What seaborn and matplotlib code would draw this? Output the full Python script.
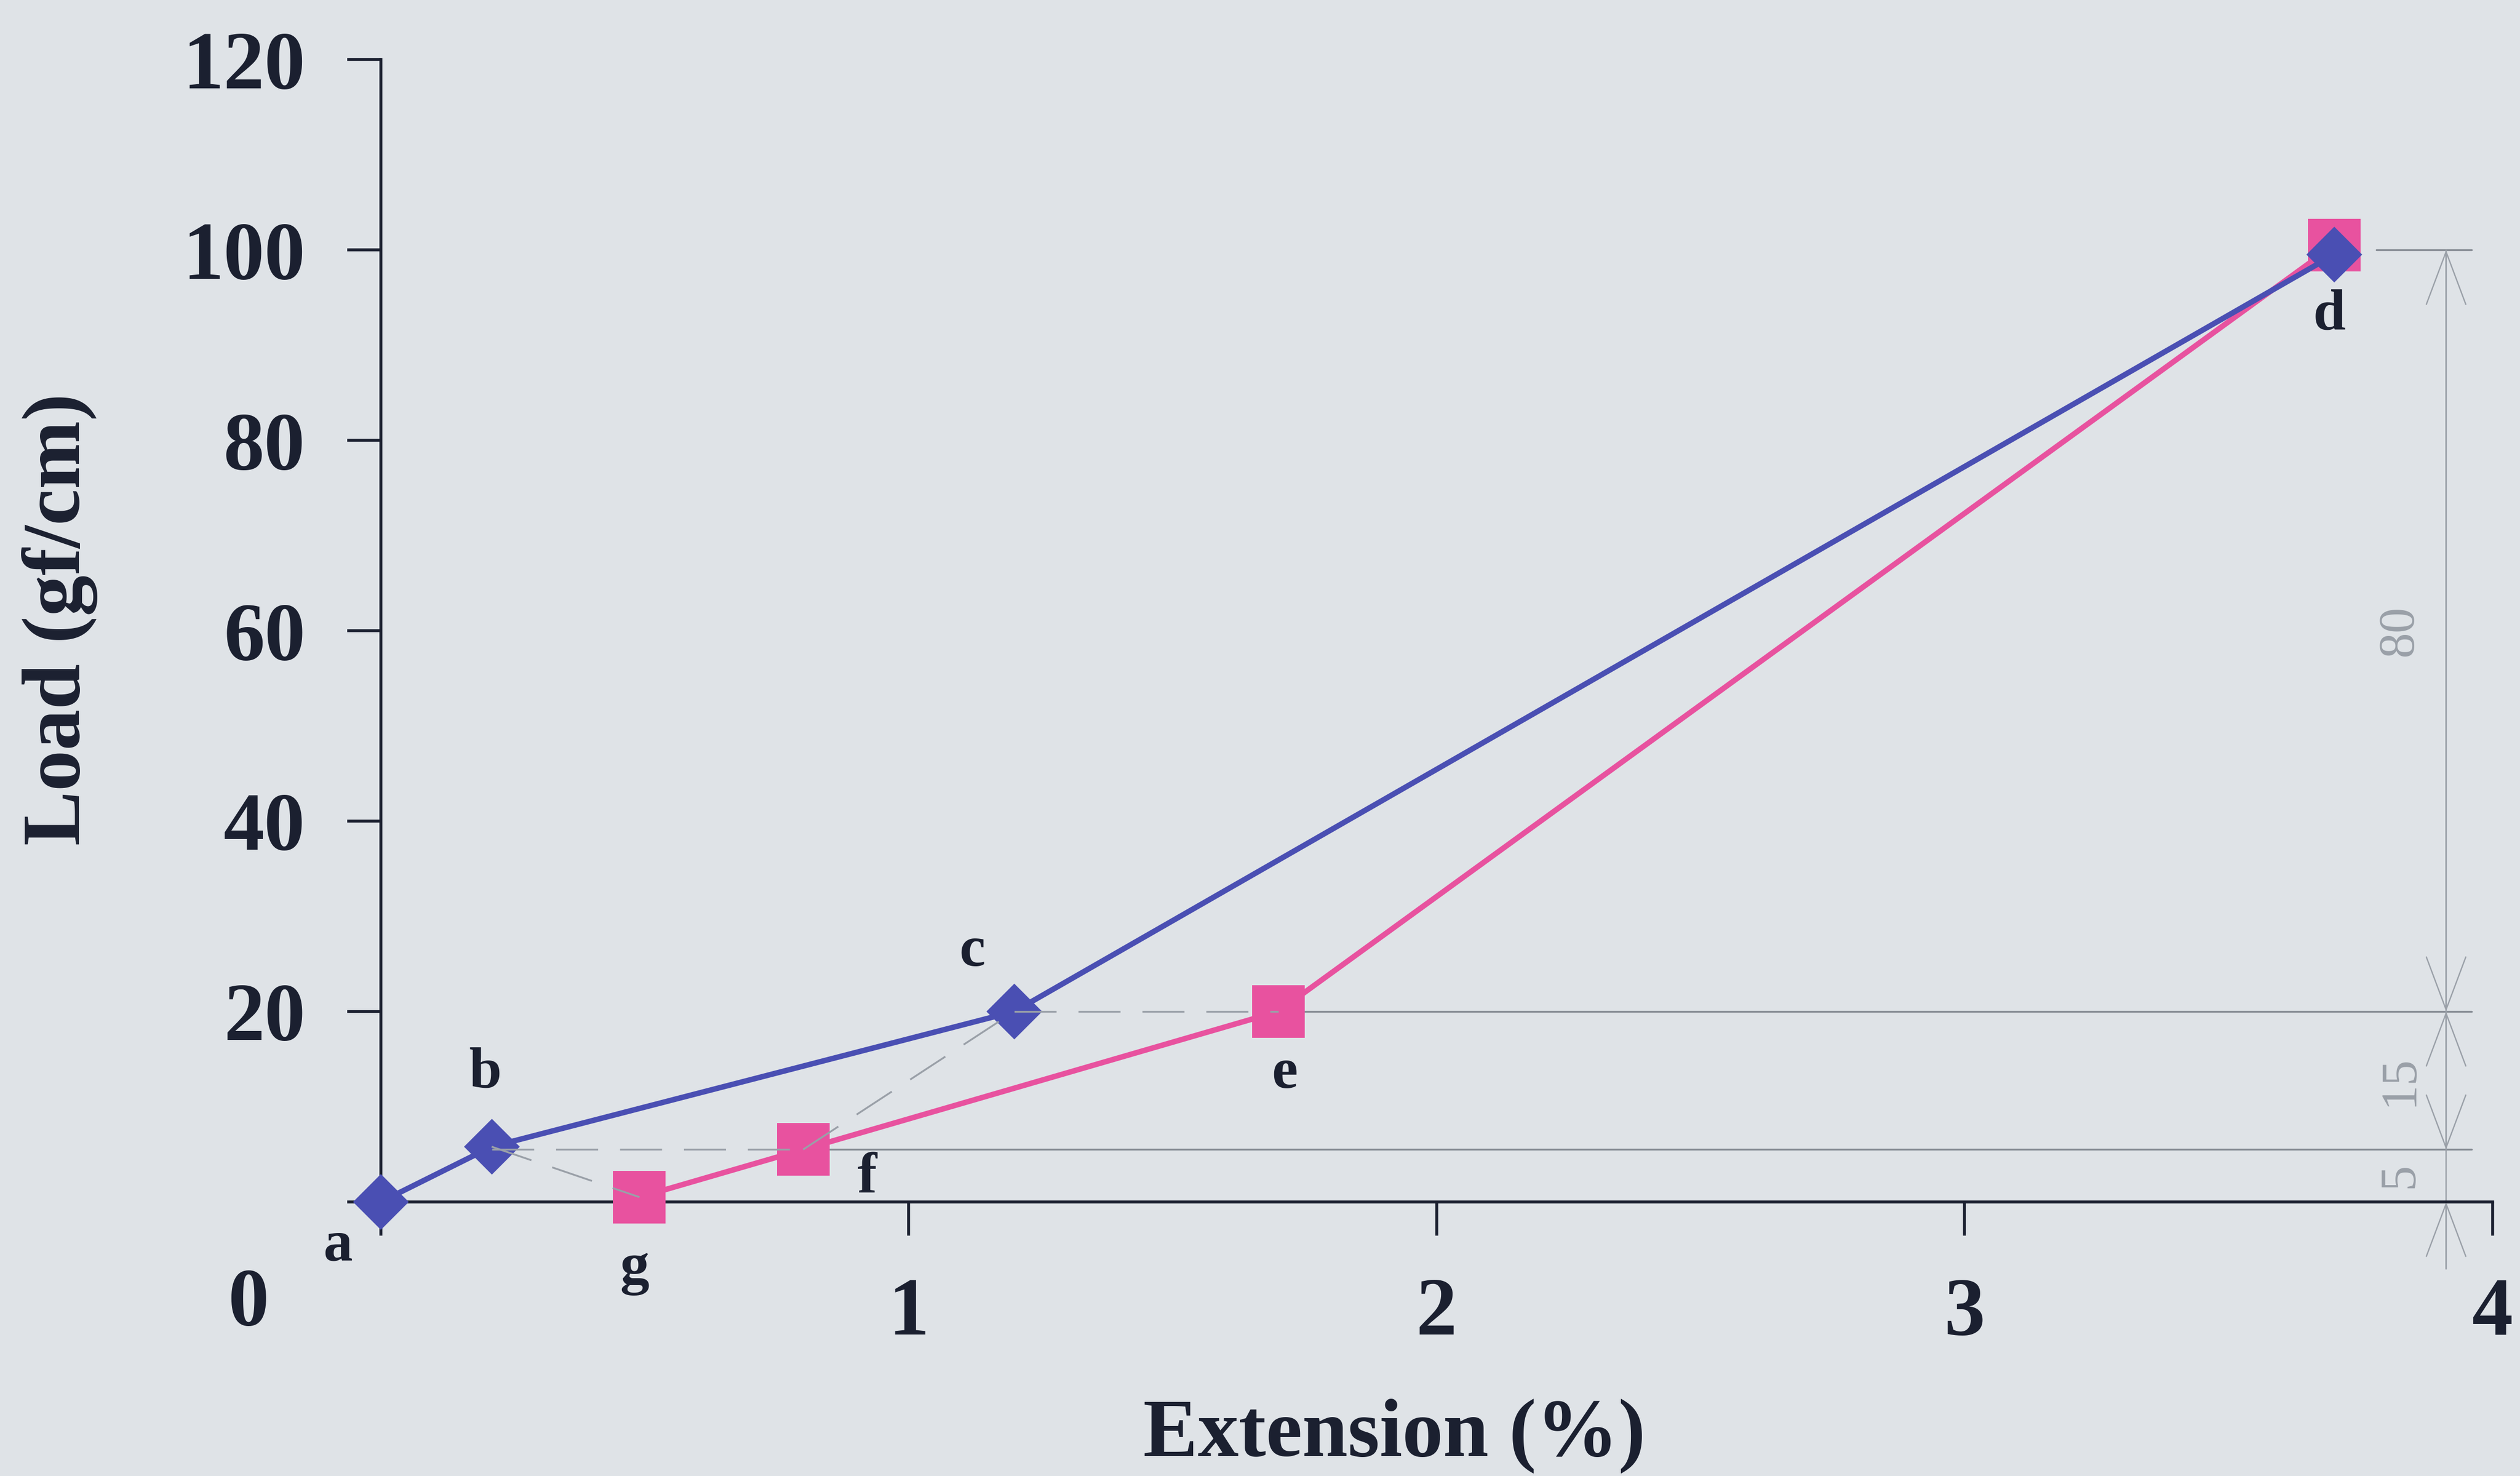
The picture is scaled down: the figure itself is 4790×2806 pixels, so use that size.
"""
Load / extension hysteresis chart (loading a-b-c-d, recovery d-e-f-g)
with the grey construction lines and the 5 / 15 / 80 dimension marks.
"""
import matplotlib
matplotlib.use("Agg")
import matplotlib.pyplot as plt
import seaborn as sns

# loading path (blue diamonds)
load_x = [0.0, 0.21, 1.20, 3.70]
load_y = [0.0, 5.8, 20.0, 99.5]
load_names = ["a", "b", "c", "d"]

# recovery path (pink squares)
recov_x = [0.49, 0.80, 1.70, 3.70]
recov_y = [0.5, 5.5, 20.0, 100.5]
recov_names = ["g", "f", "e", ""]

# dimension marks on the right
dim_levels = [0.0, 5.5, 20.0, 100.0]
dim_values = ["5", "15", "80"]

x_ticks = [0, 1, 2, 3, 4]
x_labels = ["", "1", "2", "3", "4"]
y_ticks = [0, 20, 40, 60, 80, 100, 120]
y_labels = ["", "20", "40", "60", "80", "100", "120"]

BG = "#dfe3e7"
INK = "#1b2030"
BLUE = "#4a4fb3"
PINK = "#e8529f"
GREY_D = "#9aa0a8"
GREY_S = "#858b93"

sns.set_theme(style="white")
plt.rcParams["font.family"] = ["Liberation Serif", "DejaVu Serif"]

fig = plt.figure(figsize=(47.9, 28.06), dpi=100, facecolor=BG)
ax = fig.add_axes([0.1511, 0.1857, 0.838, 0.774], facecolor=BG)

# grey construction lines (drawn over the markers, like the original)
dash = (0, (23, 12))
ax.plot([load_x[1], recov_x[1]], [recov_y[1], recov_y[1]], color=GREY_D, lw=2.5, ls=dash, zorder=6)
ax.plot([load_x[2], recov_x[2]], [load_y[2], load_y[2]], color=GREY_D, lw=2.5, ls=dash, zorder=6)
ax.plot([load_x[1], recov_x[0]], [load_y[1], recov_y[0]], color=GREY_D, lw=2.5, ls=dash, zorder=6)
ax.plot([recov_x[1], load_x[2]], [recov_y[1], load_y[2]], color=GREY_D, lw=2.5, ls=dash, zorder=6)

x_end = 3.96
ax.plot([recov_x[1] + 0.05, x_end], [dim_levels[1]] * 2, color=GREY_S, lw=2.5, zorder=2, clip_on=False)
ax.plot([recov_x[2] + 0.05, x_end], [dim_levels[2]] * 2, color=GREY_S, lw=2.5, zorder=2, clip_on=False)
ax.plot([3.78, x_end], [dim_levels[3]] * 2, color=GREY_S, lw=2.5, zorder=2, clip_on=False)

# the two curves
sns.lineplot(x=recov_x, y=recov_y, ax=ax, color=PINK, lw=7.5, marker="s",
             markersize=72, markeredgewidth=0, sort=False, clip_on=False, zorder=4)
sns.lineplot(x=load_x, y=load_y, ax=ax, color=BLUE, lw=7.5, marker="D",
             markersize=54, markeredgewidth=0, sort=False, clip_on=False, zorder=5)

# point letters
offsets = {"a": (-59, -60), "b": (-9, 100), "c": (-58, 82), "d": (-7, -83),
           "e": (9, -85), "f": (87, -39), "g": (-7, -99)}
for xs, ys, names in [(load_x, load_y, load_names), (recov_x, recov_y, recov_names)]:
    for x, y, n in zip(xs, ys, names):
        if not n:
            continue
        ax.annotate(n, (x, y), xytext=offsets[n], textcoords="offset points",
                    ha="center", va="center", fontsize=80, fontweight="bold",
                    color=INK, annotation_clip=False)

# dimension line with arrows
xd = 3.912
ax.plot([xd, xd], [dim_levels[3], -7], color=GREY_D, lw=1.8, clip_on=False, zorder=2)
arrow = dict(arrowstyle="<->,head_length=1.2,head_width=0.45", color=GREY_D, lw=1.8,
             shrinkA=0, shrinkB=0, mutation_scale=60)
ax.annotate("", xy=(xd, dim_levels[3]), xytext=(xd, dim_levels[2]), arrowprops=arrow, annotation_clip=False)
ax.annotate("", xy=(xd, dim_levels[2]), xytext=(xd, dim_levels[1]), arrowprops=arrow, annotation_clip=False)
ax.annotate("", xy=(xd, dim_levels[0]), xytext=(xd, -7),
            arrowprops=dict(arrow, arrowstyle="->,head_length=1.2,head_width=0.45"),
            annotation_clip=False)
for lo, hi, v in zip(dim_levels[:-1], dim_levels[1:], dim_values):
    mid = (lo + hi) / 2
    ax.text(3.825, mid, v, rotation=90, ha="center", va="center", fontsize=70, color=GREY_D)

# axes styling
ax.set_xlim(0, 4)
ax.set_ylim(0, 120)
ax.set_xticks(x_ticks, x_labels)
ax.set_yticks(y_ticks, y_labels)
sns.despine(ax=ax)
for s in ["left", "bottom"]:
    ax.spines[s].set_linewidth(4)
    ax.spines[s].set_color(INK)
ax.tick_params(direction="out", length=46, width=4, color=INK, pad=57,
               labelsize=112, labelcolor=INK, left=True, bottom=True)
for lab in ax.get_xticklabels() + ax.get_yticklabels():
    lab.set_fontweight("bold")
ax.annotate("0", (0, 0), xytext=(-181, -141), textcoords="offset points", ha="center",
            va="center", fontsize=112, fontweight="bold", color=INK, annotation_clip=False)

ax.set_xlabel("Extension (%)", fontsize=112, fontweight="bold", color=INK)
ax.set_ylabel("Load (gf/cm)", fontsize=112, fontweight="bold", color=INK)
ax.xaxis.set_label_coords(0.48, -0.172)
ax.yaxis.set_label_coords(-0.134, 0.51)

fig.savefig("out.png", dpi=100, facecolor=BG)
